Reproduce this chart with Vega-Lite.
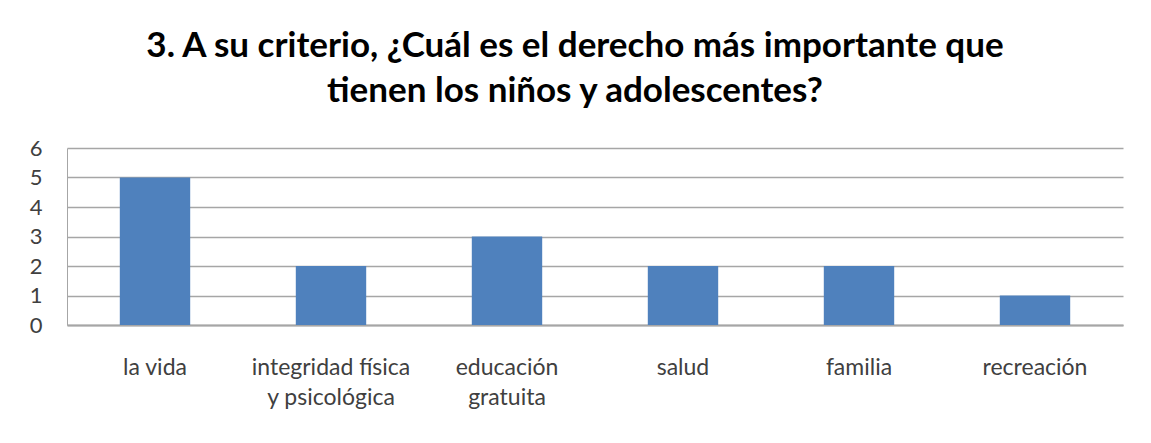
{
  "$schema": "https://vega.github.io/schema/vega-lite/v6.json",
  "width": 1056,
  "height": 177,
  "autosize": {"type": "none"},
  "padding": {"left": 67, "top": 148, "right": 28, "bottom": 118},
  "background": "white",
  "title": {
    "text": ["3. A su criterio, ¿Cuál es el derecho más importante que", "tienen los niños y adolescentes?"],
    "font": "Lato",
    "fontSize": 35,
    "fontWeight": "bold",
    "color": "#000000",
    "lineHeight": 45,
    "anchor": "middle",
    "dx": -20,
    "offset": 28
  },
  "data": {
    "values": [
      {"derecho": "la vida", "valor": 5},
      {"derecho": "integridad física y psicológica", "valor": 2},
      {"derecho": "educación gratuita", "valor": 3},
      {"derecho": "salud", "valor": 2},
      {"derecho": "familia", "valor": 2},
      {"derecho": "recreación", "valor": 1}
    ]
  },
  "mark": {"type": "bar", "color": "#4F81BD"},
  "encoding": {
    "x": {
      "field": "derecho",
      "type": "nominal",
      "sort": null,
      "scale": {"paddingInner": 0.6, "paddingOuter": 0.3},
      "axis": {
        "title": null,
        "labelAngle": 0,
        "labelFont": "Lato",
        "labelFontSize": 23,
        "labelColor": "#404040",
        "labelPadding": 31,
        "labelLineHeight": 30,
        "labelBaseline": "top",
        "ticks": false,
        "domainColor": "#A6A6A6",
        "domainWidth": 2,
        "labelExpr": "datum.value == 'integridad física y psicológica' ? ['integridad física', 'y psicológica'] : datum.value == 'educación gratuita' ? ['educación', 'gratuita'] : datum.label"
      }
    },
    "y": {
      "field": "valor",
      "type": "quantitative",
      "scale": {"domain": [0, 6]},
      "axis": {
        "title": null,
        "values": [0, 1, 2, 3, 4, 5, 6],
        "labelFont": "Lato",
        "labelFontSize": 22,
        "labelColor": "#404040",
        "labelPadding": 25,
        "ticks": false,
        "domainColor": "#A6A6A6",
        "grid": true,
        "gridColor": "#A6A6A6",
        "gridWidth": 1.5
      }
    }
  },
  "config": {
    "view": {"stroke": null}
  }
}
